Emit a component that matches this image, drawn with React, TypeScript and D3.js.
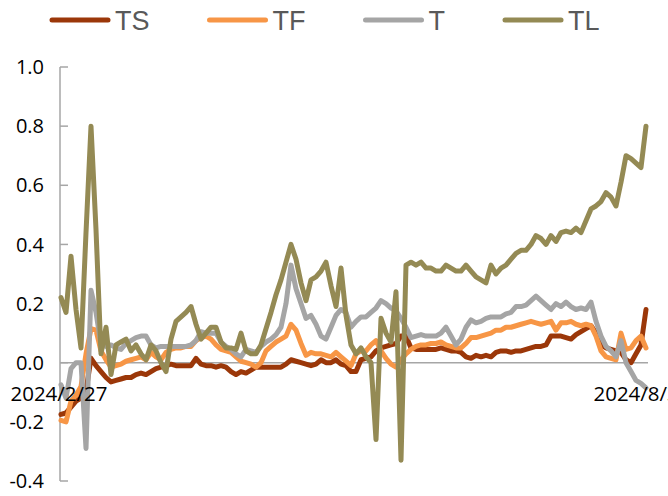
import { useEffect, useRef } from "react";
import * as d3 from "d3";

const seriesNames = ["TS", "TF", "T", "TL"];
const seriesColors = ["#9b3709", "#f79646", "#a5a5a5", "#948a54"];
const yTicks = [-0.4, -0.2, 0, 0.2, 0.4, 0.6, 0.8, 1.0];
const xLabels = ["2024/2/27", "2024/8/30"];

const TS = [
  -0.175, -0.17, -0.15, -0.13, -0.12, -0.095, 0.015, -0.01, -0.03, -0.05,
  -0.065, -0.06, -0.055, -0.05, -0.05, -0.04, -0.035, -0.04, -0.03, -0.02,
  -0.015, -0.01, -0.005, -0.01, -0.01, -0.01, -0.01, 0.015, -0.005, -0.01,
  -0.01, -0.015, -0.01, -0.015, -0.03, -0.04, -0.03, -0.035, -0.025, -0.015,
  -0.015, -0.015, -0.015, -0.015, -0.015, -0.005, 0.01, 0.005, 0.0, -0.005,
  -0.01, -0.005, 0.01, 0.0, 0.0, 0.01, -0.005, -0.01, -0.03, -0.03,
  0.01, 0.015, 0.02, 0.04, 0.05, 0.055, 0.06, 0.065, 0.09, 0.09,
  0.05, 0.045, 0.045, 0.045, 0.045, 0.045, 0.05, 0.045, 0.04, 0.04,
  0.035, 0.02, 0.015, 0.025, 0.02, 0.025, 0.02, 0.035, 0.04, 0.04,
  0.035, 0.04, 0.04, 0.045, 0.05, 0.055, 0.055, 0.06, 0.09, 0.09,
  0.09, 0.085, 0.08, 0.095, 0.105, 0.115, 0.125, 0.1, 0.06, 0.05,
  0.045, 0.04, 0.035, 0.01, 0.0, 0.03, 0.06, 0.18,
];

const TF = [
  -0.195, -0.2, -0.13, -0.11, -0.08, 0.03, 0.115, 0.11, 0.04, 0.01,
  -0.015, -0.01, -0.005, 0.005, 0.01, 0.015, 0.02, 0.01, 0.035, 0.02,
  0.01, 0.035, 0.045, 0.05, 0.05, 0.055, 0.055, 0.075, 0.085, 0.09,
  0.08, 0.06, 0.045, 0.04, 0.035, 0.02, 0.005, 0.0, -0.005, -0.015,
  0.0, 0.04, 0.055, 0.07, 0.08, 0.09, 0.13, 0.11, 0.065, 0.025,
  0.035, 0.03, 0.03, 0.025, 0.02, 0.035, 0.02, 0.005, -0.01, 0.03,
  0.04, 0.04, 0.06, 0.075, 0.04, 0.015, -0.005, -0.015, 0.01, 0.03,
  0.045, 0.055, 0.06, 0.06, 0.065, 0.065, 0.07, 0.06, 0.055, 0.05,
  0.05, 0.065, 0.085, 0.085, 0.09, 0.095, 0.1, 0.11, 0.11, 0.12,
  0.12, 0.125, 0.13, 0.135, 0.14, 0.135, 0.13, 0.135, 0.14, 0.11,
  0.135, 0.135, 0.14, 0.13, 0.125, 0.13, 0.125, 0.09, 0.04, 0.02,
  0.015, 0.01, 0.1, 0.045, 0.05, 0.075, 0.09, 0.05,
];

const T = [
  -0.075, -0.12, -0.02, 0.0, 0.0, -0.29, 0.245, 0.17, 0.06, 0.055,
  0.06, 0.05, 0.045, 0.065, 0.075, 0.085, 0.09, 0.09, 0.06, 0.05,
  0.055, 0.055, 0.055, 0.055, 0.055, 0.055, 0.06, 0.075, 0.105, 0.1,
  0.1, 0.1, 0.07, 0.055, 0.045, 0.03, 0.02, 0.045, 0.04, 0.035,
  0.055, 0.07, 0.08, 0.095, 0.12, 0.2, 0.33, 0.25, 0.2, 0.15,
  0.16, 0.13, 0.09, 0.08, 0.12, 0.16, 0.18, 0.17, 0.12, 0.14,
  0.155, 0.155, 0.17, 0.185, 0.21, 0.2, 0.185, 0.175, 0.15, 0.12,
  0.085, 0.09, 0.095, 0.09, 0.09, 0.09, 0.1, 0.12, 0.09, 0.06,
  0.08, 0.12, 0.145, 0.135, 0.14, 0.15, 0.155, 0.155, 0.155, 0.165,
  0.17, 0.19, 0.19, 0.195, 0.21, 0.225, 0.21, 0.195, 0.18, 0.2,
  0.19, 0.205, 0.19, 0.18, 0.185, 0.18, 0.205, 0.14, 0.09, 0.055,
  0.04, 0.02, 0.075, 0.0, -0.03, -0.06, -0.07, -0.085,
];

const TL = [
  0.22, 0.17, 0.36, 0.18, 0.05, 0.44, 0.8, 0.45, 0.03, 0.12,
  -0.04, 0.06, 0.07, 0.08, 0.04, 0.06, 0.03, 0.01, 0.06, 0.04,
  0.0, -0.03, 0.08, 0.14, 0.155, 0.17, 0.19, 0.13, 0.08, 0.1,
  0.12, 0.12, 0.07, 0.05, 0.05, 0.045, 0.1, 0.04, 0.03, 0.03,
  0.06, 0.115, 0.17, 0.23, 0.28, 0.34, 0.4, 0.35, 0.27, 0.21,
  0.28, 0.29, 0.31, 0.34, 0.26, 0.19, 0.32, 0.16, 0.06, 0.03,
  0.05, 0.02, 0.0, -0.26, 0.15, 0.1, 0.07, 0.24, -0.33, 0.33,
  0.34, 0.33, 0.34, 0.32, 0.32, 0.31, 0.31, 0.33, 0.32, 0.31,
  0.31, 0.33, 0.31, 0.29, 0.28, 0.27, 0.33, 0.3, 0.32, 0.33,
  0.35, 0.37, 0.38, 0.38, 0.4, 0.43, 0.42, 0.4, 0.43, 0.41,
  0.44, 0.445, 0.44, 0.455, 0.44, 0.48, 0.52, 0.53, 0.545, 0.575,
  0.56, 0.53, 0.61, 0.7, 0.69, 0.675, 0.66, 0.8,
];

const seriesValues = [TS, TF, T, TL];

export default function App() {
  const svgRef = useRef<SVGSVGElement>(null);

  useEffect(() => {
    if (!svgRef.current) return;
    const svg = d3.select(svgRef.current);
    svg.selectAll("*").remove();

    const width = 668;
    const height = 496;
    const margin = { top: 67, right: 22, bottom: 15, left: 60 };
    const tickFont = "'Open Sans', 'Liberation Sans', Arial, sans-serif";
    const n = TL.length;

    const x = d3
      .scaleLinear()
      .domain([0, n - 1])
      .range([margin.left + 1, width - margin.right]);

    const y = d3
      .scaleLinear()
      .domain([-0.4, 1.0])
      .range([height - margin.bottom, margin.top]);

    // Y axis: line, inward ticks, labels
    const yAxis = svg.append("g");
    yAxis
      .append("line")
      .attr("x1", margin.left)
      .attr("x2", margin.left)
      .attr("y1", y(1.0))
      .attr("y2", y(-0.4))
      .attr("stroke", "#a6a6a6")
      .attr("stroke-width", 1.5);

    yAxis
      .selectAll(".ytick")
      .data(yTicks)
      .join("line")
      .attr("class", "ytick")
      .attr("x1", margin.left)
      .attr("x2", margin.left + 8)
      .attr("y1", (d) => y(d))
      .attr("y2", (d) => y(d))
      .attr("stroke", "#a6a6a6")
      .attr("stroke-width", 1.5);

    yAxis
      .selectAll(".ylabel")
      .data(yTicks)
      .join("text")
      .attr("class", "ylabel")
      .attr("x", margin.left - 16)
      .attr("y", (d) => y(d))
      .attr("dy", "0.36em")
      .attr("text-anchor", "end")
      .attr("font-family", tickFont)
      .attr("font-size", "20px")
      .attr("fill", "#000")
      .text((d) => d.toFixed(1));

    // Zero baseline (category axis)
    svg
      .append("line")
      .attr("x1", margin.left)
      .attr("x2", x(n - 1) + 2)
      .attr("y1", y(0))
      .attr("y2", y(0))
      .attr("stroke", "#a6a6a6")
      .attr("stroke-width", 1.5);

    // Series lines
    const line = d3
      .line<number>()
      .x((_, i) => x(i))
      .y((d) => y(d));

    svg
      .selectAll(".series")
      .data(seriesValues)
      .join("path")
      .attr("class", "series")
      .attr("d", (d) => line(d))
      .attr("fill", "none")
      .attr("stroke", (_, i) => seriesColors[i])
      .attr("stroke-width", 5)
      .attr("stroke-linejoin", "round")
      .attr("stroke-linecap", "round");

    // Category labels (first and last date), on top of the lines
    svg
      .selectAll(".xlabel")
      .data(xLabels)
      .join("text")
      .attr("class", "xlabel")
      .attr("x", (_, i) => (i === 0 ? x(0) - 2 : x(n - 1) - 4))
      .attr("y", y(0) + 38)
      .attr("text-anchor", "middle")
      .attr("font-family", tickFont)
      .attr("font-size", "20.5px")
      .attr("fill", "#000")
      .text((d) => d);

    // Legend
    const legend = svg.append("g");
    const legendFont = "'Liberation Sans Narrow', 'Arial Narrow', 'Liberation Sans', Arial, sans-serif";
    let lx = 52;
    const ly = 20;
    seriesNames.forEach((name, i) => {
      legend
        .append("line")
        .attr("x1", lx)
        .attr("x2", lx + 56)
        .attr("y1", ly)
        .attr("y2", ly)
        .attr("stroke", seriesColors[i])
        .attr("stroke-width", 5)
        .attr("stroke-linecap", "round");
      const t = legend
        .append("text")
        .attr("x", lx + 63)
        .attr("y", ly)
        .attr("dy", "0.36em")
        .attr("font-family", legendFont)
        .attr("font-size", "27px")
        .attr("fill", "#595959")
        .text(name);
      const w = (t.node() as SVGTextElement).getComputedTextLength();
      lx = lx + 63 + w + 60;
    });
  }, []);

  return (
    <div style={{ position: "absolute", left: 0, top: 0 }}>
      <svg ref={svgRef} width={668} height={496} style={{ display: "block", background: "#fff" }} />
    </div>
  );
}
